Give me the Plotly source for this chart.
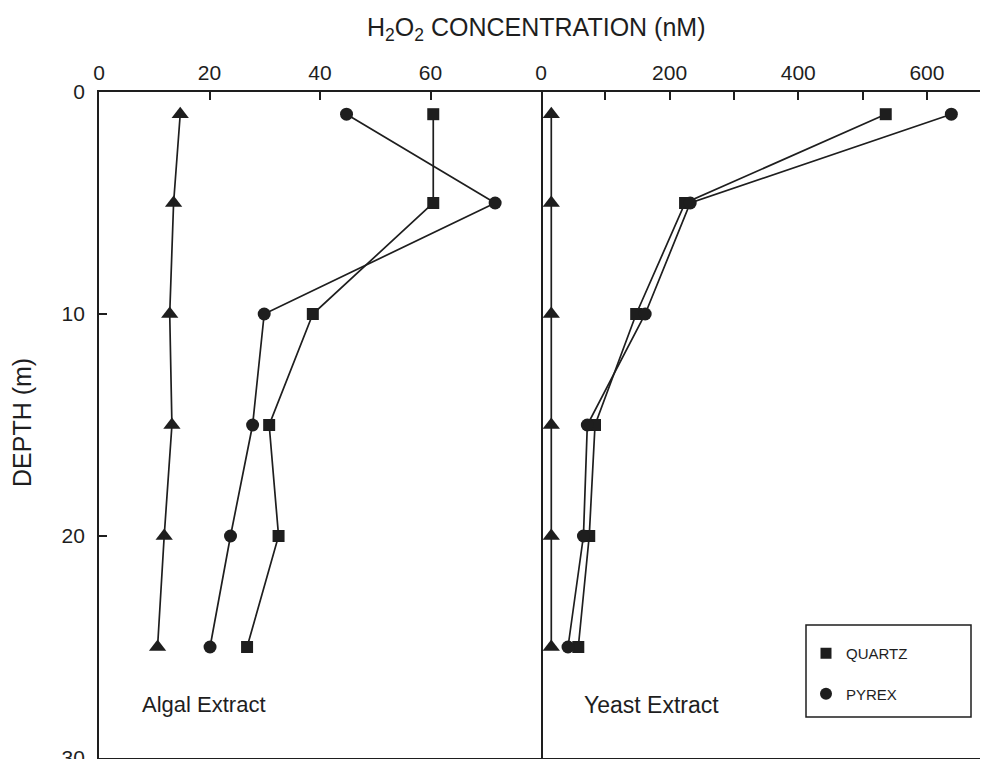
import plotly.graph_objects as go

depth = [1, 5, 10, 15, 20, 25]

# Algal extract (nM)
algal_quartz = [60.5, 60.5, 38.7, 30.8, 32.5, 26.8]
algal_pyrex = [44.8, 71.7, 29.9, 27.8, 23.8, 20.1]
algal_dark = [14.7, 13.5, 12.8, 13.2, 11.8, 10.6]

# Yeast extract (nM)
yeast_quartz = [536, 224, 148, 84, 75, 58]
yeast_pyrex = [638, 232, 162, 72, 66, 42]
yeast_dark = [16, 16, 16, 16, 16, 16]

left_ticks = [0, 20, 40, 60]
right_ticks = [0, 100, 200, 300, 400, 500, 600]
right_ticktext = ["0", "", "200", "", "400", "", "600"]
depth_ticks = [0, 10, 20, 30]

INK = "#1e1e1e"
FONT = "Liberation Sans, Arial, Helvetica, sans-serif"

# the page body adds an 8 px offset; work in page pixels and convert
OFF = 8
FIG_W, FIG_H = 988 - OFF, 759 - OFF
L, R, T, B = 99 - OFF, 988 - OFF, 92 - OFF, 758 - OFF
W, H = R - L, B - T


def px(xp):
    return (xp - OFF - L) / W


def py(yp):
    return (B - (yp - OFF)) / H


fig = go.Figure()


def add(x, y, xa, symbol, size):
    fig.add_trace(go.Scatter(
        x=x, y=y, xaxis=xa, yaxis="y", mode="lines+markers",
        line=dict(color=INK, width=1.7),
        marker=dict(symbol=symbol, size=size, color=INK),
        showlegend=False, cliponaxis=False))


add(algal_dark, depth, "x", "triangle-up", 15)
add(algal_quartz, depth, "x", "square", 12)
add(algal_pyrex, depth, "x", "circle", 13)
add(yeast_dark, depth, "x2", "triangle-up", 15)
add(yeast_quartz, depth, "x2", "square", 12)
add(yeast_pyrex, depth, "x2", "circle", 13)

# legend-only entries (markers only, as in the reference key)
fig.add_trace(go.Scatter(x=[None], y=[None], mode="markers", name="QUARTZ",
                         marker=dict(symbol="square", size=11, color=INK),
                         legendgroup="q"))
fig.add_trace(go.Scatter(x=[None], y=[None], mode="markers", name="PYREX",
                         marker=dict(symbol="circle", size=12, color=INK),
                         legendgroup="p"))

split = px(541)

axis_common = dict(showline=True, linecolor=INK, linewidth=1.7, mirror=True,
                   ticks="inside", ticklen=8, tickcolor=INK, tickwidth=1.7,
                   showgrid=False, zeroline=False, automargin=False,
                   ticklabeloverflow="allow",
                   tickfont=dict(size=21, color=INK, family=FONT))

fig.update_layout(
    width=FIG_W, height=FIG_H,
    margin=dict(l=L, r=FIG_W - R, t=T, b=FIG_H - B),
    paper_bgcolor="white", plot_bgcolor="white",
    font=dict(family=FONT, color=INK),
    xaxis=dict(domain=[0, split], range=[0, 80], side="top",
               tickvals=left_ticks, anchor="y", ticklabelstandoff=2, **axis_common),
    xaxis2=dict(domain=[split, 1], range=[0, 695], side="top",
                tickvals=right_ticks, ticktext=right_ticktext, anchor="y",
                ticklabelstandoff=2, **axis_common),
    yaxis=dict(range=[30, 0], tickvals=depth_ticks, anchor="x",
               ticklabelstandoff=8, **axis_common),
    showlegend=True,
    legend=dict(x=px(806), y=py(637), xanchor="left", yanchor="top",
                borderwidth=0, bgcolor="rgba(0,0,0,0)",
                font=dict(size=15, color=INK, family=FONT),
                tracegroupgap=18, itemwidth=30),
    shapes=[
        dict(type="rect", xref="paper", yref="paper",
             x0=px(806), x1=px(971), y0=py(717), y1=py(625),
             line=dict(color=INK, width=1.5), fillcolor="rgba(0,0,0,0)"),
    ],
    annotations=[
        dict(text="H<sub>2</sub>O<sub>2</sub> CONCENTRATION (nM)", xref="paper", yref="paper",
             x=px(535.5), y=py(29), xanchor="center", yanchor="middle",
             showarrow=False, font=dict(size=25, color=INK, family=FONT)),
        dict(text="DEPTH (m)", xref="paper", yref="paper", x=px(22), y=py(423),
             xanchor="center", yanchor="middle", textangle=-90, showarrow=False,
             font=dict(size=25, color=INK, family=FONT)),
        dict(text="Algal Extract", xref="x", yref="y", x=7.4, y=27.6,
             xanchor="left", yanchor="middle", showarrow=False,
             font=dict(size=22, color=INK, family=FONT)),
        dict(text="Yeast Extract", xref="x2", yref="y", x=64, y=27.6,
             xanchor="left", yanchor="middle", showarrow=False,
             font=dict(size=23, color=INK, family=FONT)),
    ],
)

fig.write_html("out.html")
